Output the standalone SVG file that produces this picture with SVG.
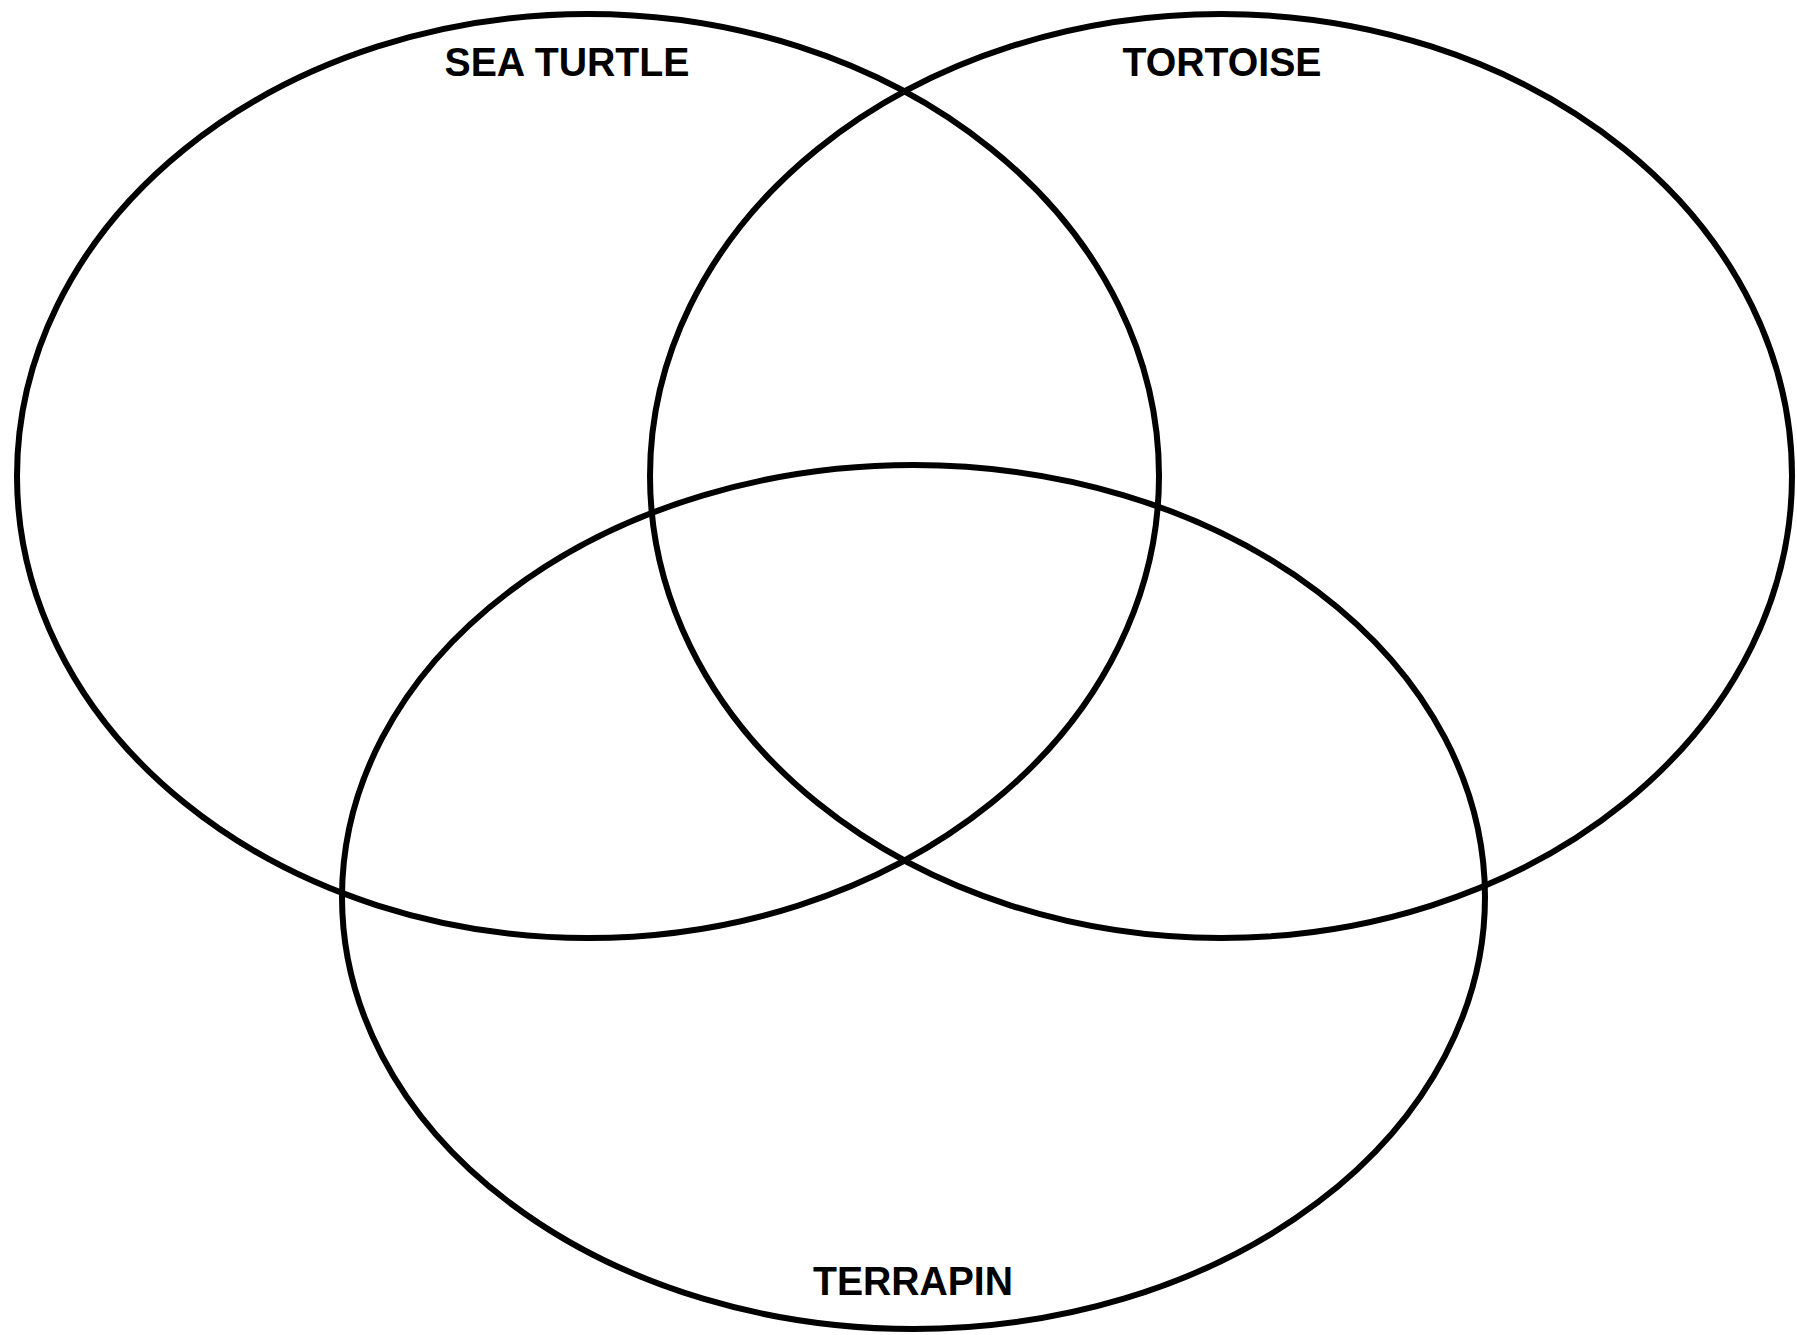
<svg xmlns="http://www.w3.org/2000/svg" width="1797" height="1335" viewBox="0 0 1797 1335">
<style>
.set{fill:none;stroke:#000;stroke-width:6}
.lbl{font-family:"Liberation Sans",Arial,sans-serif;font-weight:bold;font-size:40px;fill:#000;text-anchor:middle}
</style>
<rect width="1797" height="1335" fill="#fff"/>
<g id="sea-turtle">
<ellipse class="set" cx="588" cy="476" rx="571" ry="462"/>
<text class="lbl" x="567" y="76" textLength="245" lengthAdjust="spacingAndGlyphs">SEA TURTLE</text>
</g>
<g id="tortoise">
<ellipse class="set" cx="1221" cy="476" rx="571" ry="462"/>
<text class="lbl" x="1222" y="76" textLength="199" lengthAdjust="spacingAndGlyphs">TORTOISE</text>
</g>
<g id="terrapin">
<ellipse class="set" cx="913.5" cy="897" rx="571.5" ry="432"/>
<text class="lbl" x="913" y="1295" textLength="200" lengthAdjust="spacingAndGlyphs">TERRAPIN</text>
</g>
<g id="connectors"></g>
</svg>
